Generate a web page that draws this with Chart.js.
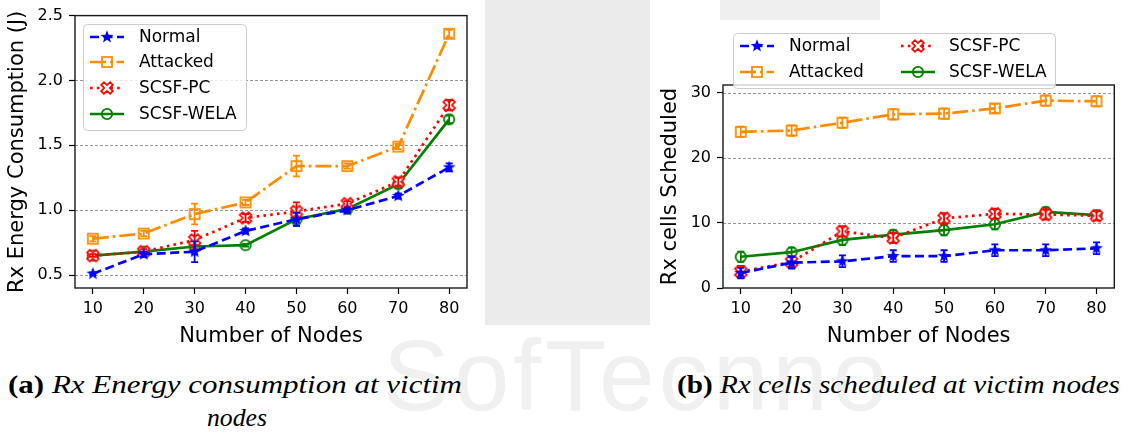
<!DOCTYPE html>
<html><head><meta charset="utf-8">
<script src="https://cdn.jsdelivr.net/npm/chart.js@4"></script>
<style>
html,body{margin:0;padding:0;background:#fff;width:1123px;height:432px;overflow:hidden;position:relative;}
.abs{position:absolute;}
.cap{position:absolute;font-family:"Liberation Serif",serif;font-size:26px;line-height:33px;color:#000;white-space:nowrap;transform-origin:0 0;}
.wm{position:absolute;font-family:"Liberation Sans",sans-serif;color:#f0f0f0;font-size:100px;letter-spacing:4px;}
</style></head><body>
<div class="wm" style="left:383px;top:318px;">SofTechno</div>
<div class="abs" style="left:485px;top:0;width:165px;height:325px;background:#ebebeb"></div>
<div class="abs" style="left:720px;top:0;width:160px;height:20px;background:#efefef"></div>
<div class="abs" style="left:0;top:0;width:485px;height:325px;background:#fff"></div>
<div class="abs" style="left:650px;top:20px;width:473px;height:337px;background:#fff"></div>
<canvas id="c1" class="abs" style="left:0;top:0" width="485" height="349"></canvas>
<canvas id="c2" class="abs" style="left:640px;top:0" width="483" height="349"></canvas>
<div class="cap" id="capA1" style="left:8px;top:368px;"><b>(a)</b> <i>Rx Energy consumption at victim</i></div>
<div class="cap" id="capA2" style="left:0;top:401px;"><i>nodes</i></div>
<div class="cap" id="capB" style="left:677px;top:368px;"><b>(b)</b> <i>Rx cells scheduled at victim nodes</i></div>
<script>
// ---- data ----
const nodes = [10, 20, 30, 40, 50, 60, 70, 80];
const xTicks = [10, 20, 30, 40, 50, 60, 70, 80];
const energyTicks = [0.5, 1.0, 1.5, 2.0, 2.5];
const cellTicks = [0, 10, 20, 30];
const seriesNames = ['Normal', 'Attacked', 'SCSF-PC', 'SCSF-WELA'];

const normalE = [0.51, 0.66, 0.68, 0.84, 0.93, 1.00, 1.11, 1.33];
const normalEErr = [0.01, 0.02, 0.08, 0.02, 0.05, 0.02, 0.02, 0.03];
const attackedE = [0.78, 0.82, 0.97, 1.06, 1.34, 1.34, 1.49, 2.36];
const attackedEErr = [0.02, 0.02, 0.08, 0.02, 0.08, 0.02, 0.02, 0.03];
const pcE = [0.65, 0.68, 0.77, 0.94, 0.99, 1.05, 1.22, 1.81];
const pcEErr = [0.01, 0.02, 0.07, 0.03, 0.07, 0.02, 0.03, 0.04];
const welaE = [0.65, 0.68, 0.72, 0.73, 0.93, 1.01, 1.20, 1.70];
const welaEErr = [0.01, 0.02, 0.06, 0.01, 0.05, 0.02, 0.03, 0.03];

const normalC = [2.3, 3.9, 4.1, 4.9, 4.9, 5.8, 5.8, 6.1];
const normalCErr = [0.8, 0.9, 0.9, 0.9, 0.9, 0.9, 0.9, 0.9];
const attackedC = [24.0, 24.2, 25.4, 26.7, 26.8, 27.6, 28.8, 28.7];
const attackedCErr = [0.8, 0.8, 0.8, 0.8, 0.8, 0.7, 0.8, 0.8];
const pcC = [2.5, 4.0, 8.7, 7.7, 10.7, 11.4, 11.3, 11.1];
const pcCErr = [0.9, 0.9, 0.8, 0.8, 0.8, 0.8, 0.8, 0.7];
const welaC = [4.8, 5.5, 7.4, 8.2, 8.9, 9.8, 11.7, 11.2];
const welaCErr = [0.8, 0.7, 0.8, 0.7, 0.8, 0.8, 0.7, 0.7];

// ---- captions fitted to the reference widths ----
function fitCap(id, w, cx) { const el = document.getElementById(id); const r = el.getBoundingClientRect(); const s = w / r.width; el.style.transform = 'scaleX(' + s + ')'; if (cx !== undefined) el.style.left = (cx - w / 2) + 'px'; }
fitCap('capA1', 454);
fitCap('capA2', 60, 237);
fitCap('capB', 443);

// ---- styles ----
const BLUE = '#0000ff', ORANGE = '#ff8c00', RED = '#ff0000', GREEN = '#008000';
function mk(size, draw) { const c = document.createElement('canvas'); c.width = c.height = size; const g = c.getContext('2d'); draw(g, size / 2); return c; }
const starImg = mk(16, (g, c) => { g.fillStyle = BLUE; g.beginPath(); for (let i = 0; i < 10; i++) { const r = i % 2 ? 2.8 : 6.8; const a = -Math.PI / 2 + i * Math.PI / 5; g.lineTo(c + r * Math.cos(a), c + r * Math.sin(a)); } g.closePath(); g.fill(); });
const squareImg = mk(16, (g, c) => { g.strokeStyle = ORANGE; g.lineWidth = 1.8; g.strokeRect(c - 5, c - 5, 10, 10); });
const xImg = mk(16, (g, c) => { const a = 2, L = 6.3; const pts = [[-a, L], [a, L], [a, a], [L, a], [L, -a], [a, -a], [a, -L], [-a, -L], [-a, -a], [-L, -a], [-L, a], [-a, a]]; const k = Math.SQRT1_2; g.beginPath(); pts.forEach(p => { g.lineTo(c + (p[0] - p[1]) * k, c + (p[0] + p[1]) * k); }); g.closePath(); g.fillStyle = '#fff'; g.fill(); g.strokeStyle = RED; g.lineWidth = 1.7; g.stroke(); });
const circImg = mk(16, (g, c) => { g.strokeStyle = GREEN; g.lineWidth = 1.8; g.beginPath(); g.arc(c, c, 5.2, 0, 2 * Math.PI); g.stroke(); });

const styles = [
  { color: BLUE, dash: [9, 4.5], img: starImg },
  { color: ORANGE, dash: [16, 4, 2.6, 4], img: squareImg },
  { color: RED, dash: [2.6, 4.2], img: xImg },
  { color: GREEN, dash: [], img: circImg }
];
function ds(k, ys, errs) {
  const s = styles[k];
  return { label: seriesNames[k], data: nodes.map((x, i) => ({ x, y: ys[i] })), errors: errs,
    borderColor: s.color, backgroundColor: s.color, borderWidth: 2.7, borderDash: s.dash,
    pointStyle: s.img, pointRadius: 6, pointHoverRadius: 6, tension: 0, fill: false, clip: 8 };
}

const errPlugin = { id: 'errbars', afterDatasetDraw(chart, args) {
  const d = chart.data.datasets[args.index]; if (!d.errors) return;
  const ys = chart.scales.y, g = chart.ctx; g.save(); g.strokeStyle = d.borderColor; g.lineWidth = 1.8; g.setLineDash([]);
  d.data.forEach((p, i) => { const e = d.errors[i]; const px = args.meta.data[i].x;
    const y1 = ys.getPixelForValue(p.y - e), y2 = ys.getPixelForValue(p.y + e);
    g.beginPath(); g.moveTo(px, y1); g.lineTo(px, y2); g.moveTo(px - 3.5, y1); g.lineTo(px + 3.5, y1); g.moveTo(px - 3.5, y2); g.lineTo(px + 3.5, y2); g.stroke(); });
  g.restore(); } };

const frame = { id: 'frame',
  beforeDatasetsDraw(chart) { const a = chart.chartArea, g = chart.ctx, ys = chart.scales.y; g.save(); g.strokeStyle = '#8a8a8a'; g.lineWidth = 0.9; g.setLineDash([3, 2]);
    ys.ticks.forEach(t => { const y = Math.round(ys.getPixelForValue(t.value)) + 0.5; if (y > a.top + 1 && y < a.bottom - 1) { g.beginPath(); g.moveTo(a.left, y); g.lineTo(a.right, y); g.stroke(); } }); g.restore(); },
  afterDatasetsDraw(chart) { const a = chart.chartArea, g = chart.ctx; g.save(); g.strokeStyle = '#1a1a1a'; g.lineWidth = 1.4; g.setLineDash([]); g.strokeRect(a.left, a.top, a.right - a.left, a.bottom - a.top); g.restore(); },
  afterDraw(chart, args, opts) {
    if (!opts || !opts.box) return; const g = chart.ctx, b = opts.box; g.save();
    g.beginPath(); g.roundRect(b[0] + 0.5, b[1] + 0.5, b[2] - b[0], b[3] - b[1], 4); g.fillStyle = 'rgba(255,255,255,0.8)'; g.fill(); g.strokeStyle = '#cccccc'; g.lineWidth = 1; g.stroke();
    opts.items.forEach(it => { const d = chart.data.datasets[it.i];
      g.strokeStyle = d.borderColor; g.lineWidth = 2.7; g.setLineDash(d.borderDash); g.beginPath(); g.moveTo(it.lx, it.ly); g.lineTo(it.lx + 34, it.ly); g.stroke(); g.setLineDash([]);
      g.drawImage(d.pointStyle, it.lx + 17 - 8, it.ly - 8);
      g.fillStyle = '#000'; g.font = '17px "DejaVu Sans"'; g.textBaseline = 'middle'; g.textAlign = 'left'; g.fillText(d.label, it.tx, it.ly + 1); });
    g.restore(); } };

function makeScales(ymin, ymax, yTicks, yTitle, yWidth, fmt) {
  const tickFont = { family: 'DejaVu Sans', size: 16 };
  const titleFont = { family: 'DejaVu Sans', size: 21 };
  return {
    x: { type: 'linear', min: 6.5, max: 83.5,
      afterBuildTicks: s => { s.ticks = xTicks.map(v => ({ value: v })); },
      afterFit: s => { s.height = 61; },
      ticks: { color: '#000', font: tickFont, padding: 5, maxRotation: 0, autoSkip: false, callback: v => String(v) },
      grid: { drawOnChartArea: false, drawTicks: true, tickLength: 6, tickColor: '#000', tickWidth: 1.2 },
      border: { display: false },
      title: { display: true, text: 'Number of Nodes', color: '#000', font: titleFont, padding: { top: 3, bottom: 0 } } },
    y: { type: 'linear', min: ymin, max: ymax,
      afterBuildTicks: s => { s.ticks = yTicks.map(v => ({ value: v })); },
      afterFit: s => { s.width = yWidth; },
      ticks: { color: '#000', font: tickFont, padding: 6, autoSkip: false, callback: fmt },
      grid: { drawOnChartArea: false, drawTicks: true, tickLength: 6, tickColor: '#000', tickWidth: 1.2 },
      border: { display: false },
      title: { display: true, text: yTitle, color: '#000', font: titleFont, padding: { top: 5, bottom: 0 } } }
  };
}

new Chart(document.getElementById('c1'), {
  type: 'line',
  data: { datasets: [ds(0, normalE, normalEErr), ds(1, attackedE, attackedEErr), ds(2, pcE, pcEErr), ds(3, welaE, welaEErr)] },
  options: { responsive: false, animation: false, devicePixelRatio: 1,
    layout: { padding: { left: 0, right: 18, top: 14, bottom: 0 } },
    scales: makeScales(0.4, 2.5, energyTicks, 'Rx Energy Consumption (J)', 75, v => Number(v).toFixed(1)),
    plugins: { legend: { display: false }, tooltip: { enabled: false },
      frame: { box: [83, 24, 246, 130], items: [ { i: 0, lx: 90, ly: 37, tx: 139 }, { i: 1, lx: 90, ly: 62, tx: 139 }, { i: 2, lx: 90, ly: 88, tx: 139 }, { i: 3, lx: 90, ly: 114, tx: 139 } ] } } },
  plugins: [errPlugin, frame]
});

new Chart(document.getElementById('c2'), {
  type: 'line',
  data: { datasets: [ds(0, normalC, normalCErr), ds(1, attackedC, attackedCErr), ds(2, pcC, pcCErr), ds(3, welaC, welaCErr)] },
  options: { responsive: false, animation: false, devicePixelRatio: 1,
    layout: { padding: { left: 13, right: 1, top: 85, bottom: 0 } },
    scales: makeScales(0, 31.2, cellTicks, 'Rx cells Scheduled', 70, v => String(v)),
    plugins: { legend: { display: false }, tooltip: { enabled: false },
      frame: { box: [93, 33, 415, 88], items: [ { i: 0, lx: 100, ly: 46, tx: 149 }, { i: 1, lx: 100, ly: 72, tx: 149 }, { i: 2, lx: 261, ly: 46, tx: 309 }, { i: 3, lx: 261, ly: 72, tx: 309 } ] } } },
  plugins: [errPlugin, frame]
});
</script>
</body></html>
